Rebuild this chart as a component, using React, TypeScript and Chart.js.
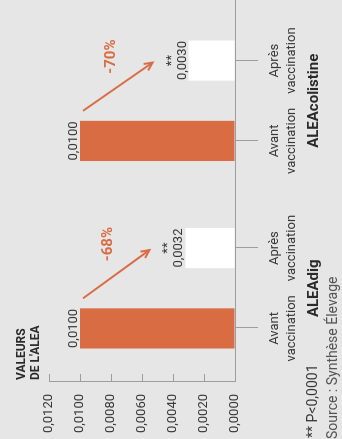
import React, { useEffect, useRef } from "react";
import { Chart, registerables } from "chart.js";

Chart.register(...registerables);

// ---- data ----
const groups = ["ALEAdig", "ALEAcolistine"];
const phaseLines = [
  ["Avant", "vaccination"],
  ["Après", "vaccination"],
];
const avantValues = [0.01, 0.01];
const apresValues = [0.0032, 0.003];
const changeLabels = ["-68%", "-70%"];
const significance = ["**", "**"];
const yTicks = [0, 0.002, 0.004, 0.006, 0.008, 0.01, 0.012];
const axisTitle = ["VALEURS", "DE L'ALEA"];
const footnote = "** P<0,0001";
const sourceText = "Source : Synthèse Élevage";

// ---- styles ----
const BG = "#e5e6e5";
const ORANGE = "#d96c43";
const AXIS = "#9c9d9c";
const TEXT = "#383838";
const FONT = "Roboto";

const fmt = (v: number) => v.toFixed(4).replace(".", ",");

function drawArrow(ctx: CanvasRenderingContext2D, x1: number, y1: number, x2: number, y2: number) {
  ctx.beginPath();
  ctx.moveTo(x1, y1);
  ctx.lineTo(x2, y2);
  ctx.stroke();
  const a = Math.atan2(y2 - y1, x2 - x1);
  const L = 9;
  const w = 0.45;
  ctx.beginPath();
  ctx.moveTo(x2 - L * Math.cos(a - w), y2 - L * Math.sin(a - w));
  ctx.lineTo(x2, y2);
  ctx.lineTo(x2 - L * Math.cos(a + w), y2 - L * Math.sin(a + w));
  ctx.stroke();
}

const annotations = {
  id: "annotations",
  afterDraw(chart: any) {
    const ctx: CanvasRenderingContext2D = chart.ctx;
    const area = chart.chartArea;
    const metaA = chart.getDatasetMeta(0);
    const metaB = chart.getDatasetMeta(1);
    const xScale = chart.scales.x;
    ctx.save();

    // extend baseline to the canvas edge
    ctx.strokeStyle = AXIS;
    ctx.lineWidth = 1;
    ctx.beginPath();
    ctx.moveTo(area.right, Math.round(area.bottom) + 0.5);
    ctx.lineTo(chart.width, Math.round(area.bottom) + 0.5);
    ctx.stroke();

    groups.forEach((g, i) => {
      const bars = [metaA.data[i], metaB.data[i]];
      const values = [avantValues[i], apresValues[i]];
      bars.forEach((bar: any, k: number) => {
        // category tick
        ctx.strokeStyle = AXIS;
        ctx.lineWidth = 1;
        ctx.beginPath();
        ctx.moveTo(Math.round(bar.x) + 0.5, area.bottom);
        ctx.lineTo(Math.round(bar.x) + 0.5, area.bottom + 23);
        ctx.stroke();
        // category labels
        ctx.fillStyle = TEXT;
        ctx.font = `13px ${FONT}`;
        ctx.textAlign = "center";
        ctx.textBaseline = "alphabetic";
        ctx.fillText(phaseLines[k][0], bar.x, area.bottom + 43);
        ctx.fillText(phaseLines[k][1], bar.x, area.bottom + 60);
        // value labels
        ctx.font = `13px ${FONT}`;
        ctx.fillText(fmt(values[k]), bar.x, bar.y - 3);
        if (k === 1) {
          ctx.fillText(significance[i], bar.x, bar.y - 14);
        }
      });
      // group label
      ctx.fillStyle = "#2a2a2a";
      ctx.font = `bold 15px ${FONT}`;
      ctx.textAlign = "center";
      ctx.fillText(g, xScale.getPixelForValue(i), area.bottom + 83);

      // arrow
      const a: any = bars[0];
      const b: any = bars[1];
      const x1 = a.x + a.width / 2 + 10;
      const y1 = a.y + 3;
      const x2 = b.x - 2;
      const y2 = b.y - 36;
      ctx.strokeStyle = ORANGE;
      ctx.lineWidth = 2;
      drawArrow(ctx, x1, y1, x2, y2);
      ctx.fillStyle = ORANGE;
      ctx.font = `bold 15px ${FONT}`;
      ctx.textAlign = "center";
      ctx.textBaseline = "middle";
      ctx.fillText(changeLabels[i], x2 + 6, y2 - 41);
      ctx.textBaseline = "alphabetic";
    });

    // axis title
    ctx.fillStyle = "#2a2a2a";
    ctx.font = `bold 12px ${FONT}`;
    ctx.textAlign = "left";
    ctx.fillText(axisTitle[0], area.left + 2, 25);
    ctx.fillText(axisTitle[1], area.left + 2, 39);

    // footnote & source
    ctx.fillStyle = TEXT;
    ctx.font = `14px ${FONT}`;
    ctx.fillText(footnote, 1, 317);
    ctx.fillStyle = "#555555";
    ctx.font = `14px ${FONT}`;
    ctx.fillText(sourceText, 0, 337);
    ctx.restore();
  },
};

export default function App() {
  const ref = useRef<HTMLCanvasElement>(null);
  useEffect(() => {
    document.body.style.margin = "0";
    Chart.defaults.font.family = FONT;
    const chart = new Chart(ref.current as HTMLCanvasElement, {
      type: "bar",
      data: {
        labels: groups,
        datasets: [
          {
            label: phaseLines[0].join(" "),
            data: avantValues,
            backgroundColor: ORANGE,
            categoryPercentage: 0.857,
            barPercentage: 0.5,
          },
          {
            label: phaseLines[1].join(" "),
            data: apresValues,
            backgroundColor: "#ffffff",
            categoryPercentage: 0.857,
            barPercentage: 0.5,
          },
        ],
      },
      options: {
        responsive: false,
        animation: false,
        layout: { padding: { top: 49, right: 7, left: 0, bottom: 0 } },
        plugins: { legend: { display: false }, tooltip: { enabled: false } },
        scales: {
          x: {
            grid: { display: false },
            border: { display: true, color: AXIS, width: 1 },
            ticks: { display: false },
            afterFit: (s: any) => {
              s.height = 107;
            },
          },
          y: {
            min: 0,
            max: 0.012,
            afterBuildTicks: (s: any) => {
              s.ticks = yTicks.map((v) => ({ value: v }));
            },
            grid: { drawOnChartArea: false, drawTicks: true, tickLength: -8, color: AXIS },
            border: { display: true, color: AXIS, width: 1 },
            ticks: {
              padding: 20,
              color: TEXT,
              font: { family: FONT, size: 13 },
              callback: (v: any) => fmt(Number(v)),
            },
            afterFit: (s: any) => {
              s.width = 57;
            },
          },
        },
      },
      plugins: [annotations],
    });
    return () => chart.destroy();
  }, []);

  return (
    <div
      style={{
        position: "fixed",
        left: 0,
        top: 0,
        width: 342,
        height: 439,
        overflow: "hidden",
        background: BG,
      }}
    >
      <div
        style={{
          position: "absolute",
          left: 0,
          top: 0,
          width: 439,
          height: 342,
          transformOrigin: "0 0",
          transform: "translateY(439px) rotate(-90deg)",
        }}
      >
        <canvas ref={ref} width={439} height={342} style={{ display: "block", width: 439, height: 342 }} />
      </div>
    </div>
  );
}
